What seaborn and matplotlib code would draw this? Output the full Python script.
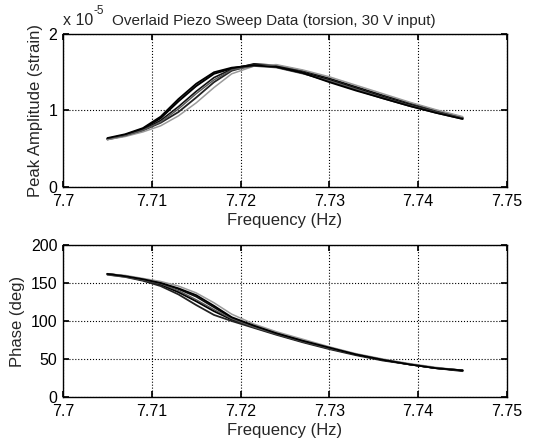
import numpy as np
import pandas as pd
import seaborn as sns
import matplotlib
matplotlib.use("Agg")
import matplotlib.pyplot as plt

sns.set_theme(style="white")
plt.rcParams['font.family'] = ['Liberation Sans', 'DejaVu Sans']

freq = [7.705, 7.707, 7.709, 7.711, 7.713, 7.715, 7.717, 7.719, 7.7215,
        7.724, 7.727, 7.730, 7.733, 7.736, 7.739, 7.742, 7.745]

# Peak amplitude, in units of 1e-5 strain
amp_s1 = [0.63, 0.68, 0.76, 0.90, 1.12, 1.32, 1.48, 1.55, 1.60, 1.58, 1.50, 1.40, 1.29, 1.18, 1.08, 0.98, 0.90]
amp_s2 = [0.62, 0.67, 0.75, 0.87, 1.05, 1.25, 1.43, 1.54, 1.61, 1.59, 1.52, 1.42, 1.31, 1.20, 1.10, 1.00, 0.91]
amp_s3 = [0.63, 0.67, 0.74, 0.84, 0.98, 1.17, 1.37, 1.52, 1.60, 1.57, 1.49, 1.38, 1.27, 1.16, 1.06, 0.97, 0.89]
amp_s4 = [0.62, 0.66, 0.72, 0.80, 0.93, 1.10, 1.30, 1.48, 1.58, 1.60, 1.53, 1.44, 1.33, 1.22, 1.11, 1.01, 0.92]
amp_s5 = [0.63, 0.67, 0.74, 0.85, 1.02, 1.22, 1.40, 1.53, 1.58, 1.56, 1.48, 1.39, 1.28, 1.17, 1.07, 0.98, 0.90]
amp_s6 = [0.64, 0.69, 0.77, 0.92, 1.15, 1.35, 1.50, 1.56, 1.59, 1.57, 1.49, 1.37, 1.26, 1.16, 1.06, 0.97, 0.89]

# Phase, degrees
ph_s1 = [162, 159, 154, 148, 138, 126, 113, 102, 92, 83, 73, 64, 56, 49, 43, 38, 35]
ph_s2 = [162, 159, 155, 150, 142, 132, 118, 104, 93, 84, 74, 65, 56, 49, 43, 38, 35]
ph_s3 = [161, 158, 153, 146, 135, 121, 108, 100, 91, 82, 72, 63, 55, 48, 43, 38, 34]
ph_s4 = [162, 160, 156, 152, 146, 137, 124, 109, 96, 86, 76, 66, 57, 50, 44, 39, 35]
ph_s5 = [161, 158, 154, 149, 140, 128, 115, 103, 92, 83, 73, 64, 56, 49, 43, 38, 35]
ph_s6 = [162, 159, 155, 150, 143, 134, 120, 105, 94, 84, 74, 65, 56, 49, 43, 38, 35]

sweep_names = ["s1", "s2", "s3", "s4", "s5", "s6"]
amps = [amp_s1, amp_s2, amp_s3, amp_s4, amp_s5, amp_s6]
phases = [ph_s1, ph_s2, ph_s3, ph_s4, ph_s5, ph_s6]
sweep_colors = ["#000000", "#111111", "#222222", "#9a9a9a", "#555555", "#000000"]
sweep_widths = [1.4, 1.2, 1.3, 1.1, 1.0, 1.3]

rows = []
for name, a, p in zip(sweep_names, amps, phases):
    for f, av, pv in zip(freq, a, p):
        rows.append({"freq": f, "amp": av, "phase": pv, "sweep": name})
df = pd.DataFrame(rows)

fig = plt.figure(figsize=(5.46, 4.48), dpi=100)
fig.patch.set_facecolor("white")
ax1 = fig.add_axes([0.1154, 0.5826, 0.8132, 0.3415])
ax2 = fig.add_axes([0.1154, 0.1138, 0.8132, 0.3393])

palette = dict(zip(sweep_names, sweep_colors))
for ax, ycol in [(ax1, "amp"), (ax2, "phase")]:
    sns.lineplot(data=df, x="freq", y=ycol, hue="sweep", palette=palette,
                 estimator=None, legend=False, ax=ax, sort=False)
    for line, lw in zip(ax.get_lines(), sweep_widths):
        line.set_linewidth(lw)

xticks = [7.7, 7.71, 7.72, 7.73, 7.74, 7.75]
xtick_labels = ["7.7", "7.71", "7.72", "7.73", "7.74", "7.75"]

for ax in (ax1, ax2):
    ax.set_xlim(7.7, 7.75)
    ax.set_xticks(xticks)
    ax.set_xticklabels(xtick_labels)
    ax.set_xlabel("Frequency (Hz)", fontsize=12, labelpad=3)
    ax.grid(True, color="black", linestyle=":", linewidth=0.8)
    ax.set_facecolor("white")
    for s in ax.spines.values():
        s.set_color("black")
        s.set_linewidth(1.0)
    ax.tick_params(axis="both", direction="in", length=4, labelsize=11.5,
                   colors="black", top=True, right=True, bottom=True, left=True)
    ax.tick_params(axis="x", pad=5)
    ax.tick_params(axis="y", pad=4)

ax1.set_ylim(0, 2)
ax1.set_yticks([0, 1, 2])
ax1.set_yticklabels(["0", "1", "2"])
ax1.set_ylabel("Peak Amplitude (strain)", fontsize=12, labelpad=4)
ax1.text(0.0, 1.04, "x 10", transform=ax1.transAxes, fontsize=11.5,
         ha="left", va="bottom")
ax1.text(0.068, 1.11, "-5", transform=ax1.transAxes, fontsize=8.5,
         ha="left", va="bottom")

ax2.set_ylim(0, 200)
ax2.set_yticks([0, 50, 100, 150, 200])
ax2.set_ylabel("Phase (deg)", fontsize=12, labelpad=4)

fig.text(0.502, 0.953, "Overlaid Piezo Sweep Data (torsion, 30 V input)",
         fontsize=11, ha="center", va="center")

fig.savefig("out.png", dpi=100, facecolor="white")
